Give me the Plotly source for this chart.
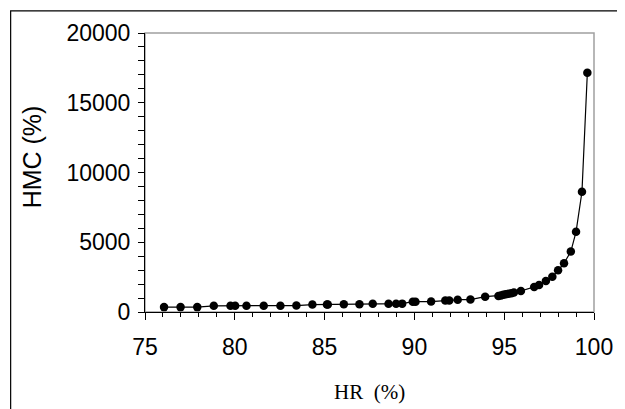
import plotly.graph_objects as go

# Data
hr = [76.06, 76.98, 77.91, 78.83, 79.76, 80.02, 80.65, 81.61, 82.54, 83.43,
      84.32, 85.13, 85.18, 86.07, 86.94, 87.68, 88.56, 88.98, 89.32, 89.91,
      90.06, 90.93, 91.72, 91.94, 92.41, 93.12, 93.94, 94.68, 94.82, 94.95,
      95.09, 95.24, 95.40, 95.54, 95.93, 96.67, 96.94, 97.32, 97.68, 98.00,
      98.33, 98.71, 99.00, 99.33, 99.63]
hmc = [350, 350, 350, 440, 440, 440, 440, 445, 450, 460,
       530, 540, 540, 550, 560, 590, 590, 590, 600, 740,
       740, 750, 820, 820, 880, 890, 1100, 1150, 1190, 1230,
       1270, 1310, 1350, 1390, 1505, 1800, 1930, 2230, 2520, 2990,
       3500, 4330, 5745, 8620, 17150]

x_ticks = [75, 80, 85, 90, 95, 100]
y_ticks = [0, 5000, 10000, 15000, 20000]

OFF = 8  # page body margin offset
L, R, T, B = 145 - OFF, 594.5 - OFF, 29 - OFF, 312 - OFF
W, H = 625, 409
pw, ph = R - L, B - T

def px(xpix):
    return (xpix - OFF - L) / pw

def py(ypix):
    return (B - (ypix - OFF)) / ph

fig = go.Figure()
fig.add_trace(go.Scatter(
    x=hr, y=hmc, mode="lines+markers",
    line=dict(color="black", width=1.2),
    marker=dict(color="black", size=8.5),
    showlegend=False, cliponaxis=False,
))

fig.update_layout(
    width=W, height=H,
    margin=dict(l=L, r=W - R, t=T, b=H - B, pad=0),
    paper_bgcolor="white", plot_bgcolor="white",
    font=dict(family="Liberation Sans, Arial", color="black", size=23),
    xaxis=dict(
        range=[75, 100], tickvals=x_ticks, ticktext=[str(v) for v in x_ticks],
        showgrid=False, zeroline=False, showline=True, linecolor="black", linewidth=1,
        ticks="outside", ticklen=7, tickwidth=1, tickcolor="black",
        minor=dict(dtick=1, ticks="outside", ticklen=4, tickwidth=1, tickcolor="black"),
        tickfont=dict(size=23), ticklabelstandoff=7,
    ),
    yaxis=dict(
        range=[0, 20000], tickvals=y_ticks, ticktext=[str(v) for v in y_ticks],
        showgrid=False, zeroline=False, showline=True, linecolor="black", linewidth=1,
        ticks="outside", ticklen=6, tickwidth=1, tickcolor="black",
        minor=dict(dtick=1000, ticks="outside", ticklen=6, tickwidth=1, tickcolor="black"),
        tickfont=dict(size=23), ticklabelstandoff=3,
    ),
    shapes=[
        # gray plot-area frame
        dict(type="rect", xref="paper", yref="paper", x0=0, x1=1, y0=0, y1=1,
             line=dict(color="#a0a0a0", width=1.5), layer="below"),
        # outer chart frame
        dict(type="rect", xref="paper", yref="paper",
             x0=px(10.5), x1=px(660), y0=py(440), y1=py(6.5),
             line=dict(color="black", width=1.2), layer="below"),
    ],
    annotations=[
        dict(text="HMC (%)", xref="paper", yref="paper", x=px(32), y=py(155),
             showarrow=False, textangle=-90, xanchor="center", yanchor="middle",
             font=dict(family="Liberation Sans, Arial", size=25, color="black")),
        dict(text="HR&nbsp;&nbsp;(%)", xref="paper", yref="paper", x=px(370), y=py(393),
             showarrow=False, xanchor="center", yanchor="middle",
             font=dict(family="Liberation Serif, Times New Roman", size=21, color="black")),
    ],
)

fig.write_html("out.html")
